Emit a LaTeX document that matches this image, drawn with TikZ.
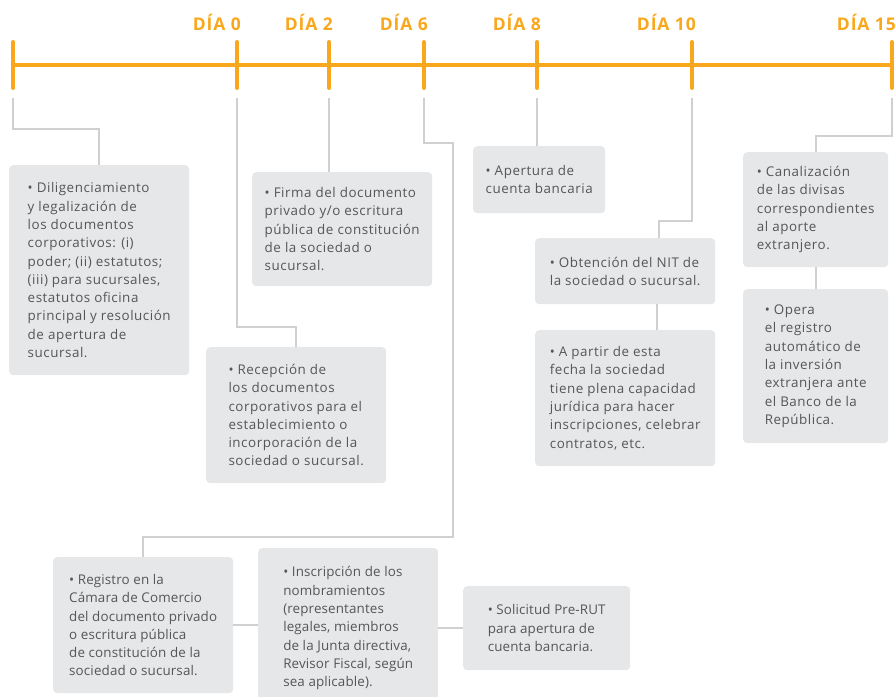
\documentclass[tikz,border=0pt]{standalone}
\usepackage{fontspec}
\setmainfont{Open Sans}
\newfontfamily\ancho[LetterSpace=4]{Open Sans}
\newfontfamily\estrecho[LetterSpace=1]{Open Sans}
\newfontfamily\titulo[LetterSpace=5]{Open Sans}
\usepackage{tikz}
\definecolor{naranja}{HTML}{F9A71C}
\definecolor{gris}{HTML}{D0D0D0}
\definecolor{caja}{HTML}{E6E7E8}
\definecolor{texto}{HTML}{555658}

\begin{document}
\begin{tikzpicture}[x=1pt, y=-1pt,
        eje/.style={naranja, line width=4pt, line cap=round},
        dia/.style={naranja, anchor=base east, inner sep=0pt, font=\titulo\fontsize{17.5}{17.5}\selectfont\bfseries},
        enlace/.style={gris, line width=2pt},
        paso/.style={fill=caja, rounded corners=4pt, anchor=north west, align=left, inner sep=0pt,
            text=texto, font=\ancho\fontsize{13.4}{18.3}\selectfont},
        pasob/.style={paso, font=\estrecho\fontsize{13.4}{18.3}\selectfont}]
        \useasboundingbox (0,0) rectangle (896,696);

        % Timeline
        \draw[eje] (13,65) -- (892,65);
        \foreach \x/\n in {13/m, 237/0, 329/2, 424/6, 537/8, 692/10, 892/15} {
            \draw[eje] (\x,42) -- (\x,88);
            \coordinate (d\n) at (\x,98);
        }
        \foreach \x/\n in {237/0, 329/2, 424/6, 537/8, 692/10, 892/15}
            \node[dia] (l\n) at (\x+4,30) {DÍA \n};

        % Boxes
        \node[paso, minimum width=180, minimum height=210] (dil) at (9,165) {• Diligenciamiento\\y legalización de\\los documentos\\corporativos: (i)\\poder; (ii) estatutos;\\(iii) para sucursales,\\estatutos oficina\\principal y resolución\\de apertura de\\sucursal.};
        \node[paso, minimum width=180, minimum height=114] (fir) at (252,172) {• Firma del documento\\privado y/o escritura\\pública de constitución\\de la sociedad o\\sucursal.};
        \node[paso, minimum width=180, minimum height=136] (rec) at (206,347) {• Recepción de\\los documentos\\corporativos para el\\establecimiento o\\incorporación de la\\sociedad o sucursal.};
        \node[paso, minimum width=132, minimum height=67] (ape) at (473,146) {• Apertura de\\cuenta bancaria};
        \node[paso, minimum width=180, minimum height=66] (obt) at (535,238) {• Obtención del NIT de\\la sociedad o sucursal.};
        \node[paso, minimum width=180, minimum height=136] (apa) at (535,330) {• A partir de esta\\fecha la sociedad\\tiene plena capacidad\\jurídica para hacer\\inscripciones, celebrar\\contratos, etc.};
        \node[paso, minimum width=145, minimum height=115] (can) at (743,152) {• Canalización\\de las divisas\\correspondientes\\al aporte\\extranjero.};
        \node[paso, minimum width=145, minimum height=154] (ope) at (743,289) {• Opera\\el registro\\automático de\\la inversión\\extranjera ante\\el Banco de la\\República.};
        \node[pasob, minimum width=180, minimum height=136] (reg) at (53,557) {• Registro en la\\Cámara de Comercio\\del documento privado\\o escritura pública\\de constitución de la\\sociedad o sucursal.};
        \node[pasob, minimum width=180, minimum height=160] (ins) at (258,548) {• Inscripción de los\\nombramientos\\(representantes\\legales, miembros\\de la Junta directiva,\\Revisor Fiscal, según\\sea aplicable).};
        \node[pasob, minimum width=167, minimum height=84] (sol) at (463,586) {• Solicitud Pre-RUT\\para apertura de\\cuenta bancaria.};

        % Lines
        \draw[enlace] (dm) -- ++(0,31) -| (dil.north);
        \draw[enlace] (d0) -- ++(0,229) -| (rec.north);
        \draw[enlace] (d2) -- (d2 |- fir.north);
        \draw[enlace] (d6) -- ++(0,45) -| ++(29,394) -| (reg.north);
        \draw[enlace] (d8) -- (d8 |- ape.north);
        \draw[enlace] (d10) -- ++(0,123) -| ([xshift=34pt]obt.north);
        \draw[enlace] ([xshift=32pt]obt.south) -- ([xshift=32pt]apa.north);
        \draw[enlace] (d15) -- ++(0,38) -| (can.north);
        \draw[enlace] (can.south) -- (ope.north);
        \draw[enlace] (reg.east) -- (reg.east -| ins.west);
        \draw[enlace] (sol.west) -- (sol.west -| ins.east);
    \end{tikzpicture}
\end{document}
